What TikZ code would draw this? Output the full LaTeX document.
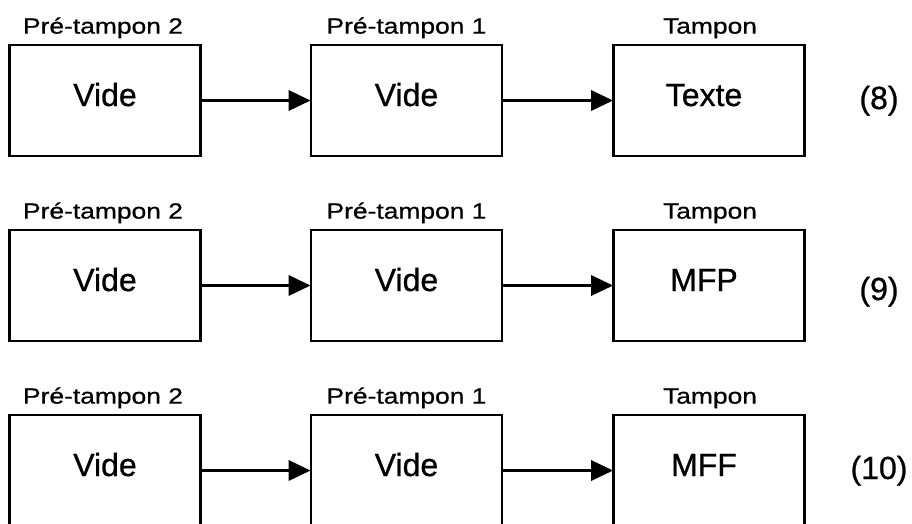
\documentclass[tikz,border=0pt]{standalone}
\usepackage{fontspec}
\setmainfont[FakeBold=0.6,AutoFakeBold=0.6]{Liberation Sans}
\newfontfamily\widefont[FakeStretch=1.2,FakeBold=0.8]{Liberation Sans}
\newfontfamily\boxfont[FakeBold=0.8]{Liberation Sans}
\usetikzlibrary{arrows.meta,calc}

\tikzset{
  buffer/.style={draw, line width=2.8pt, rectangle, inner sep=0pt,
    minimum width=191pt, minimum height=111pt,
    text height=23pt, text depth=12pt,
    font=\boxfont\fontsize{32}{36}\selectfont},
  caption/.style={anchor=base, inner sep=0pt,
    font=\widefont\fontsize{22}{26}\selectfont},
  eqnum/.style={anchor=base, inner sep=0pt,
    font=\boxfont\fontsize{32}{36}\selectfont},
  flow/.style={line width=3.4pt, -{Triangle[length=22pt,width=20pt]}, shorten >=-1pt}
}

\begin{document}
\begin{tikzpicture}[x=1pt,y=-1pt]
  \useasboundingbox (0,0) rectangle (912,523);
  \clip (0,0) rectangle (912,523);

  % three buffer chains, one per row
  \foreach \r/\yc/\yb/\content/\num in {
      1/100.5/109/Texte/(8),
      2/285.5/300/MFP/(9),
      3/470.5/479/MFF/(10)} {
    \node[buffer] (p2-\r) at (105,\yc)   {Vide};
    \node[buffer] (p1-\r) at (406.5,\yc) {Vide};
    \node[buffer] (t-\r)  at (709,\yc)   {\content\kern10pt};

    \node[caption] (c2-\r) at ($(p2-\r.north)+(-2,-10)$) {Pré-tampon 2};
    \node[caption] (c1-\r) at ($(p1-\r.north)+(0,-10)$)  {Pré-tampon 1};
    \node[caption] (ct-\r) at ($(t-\r.north)+(1,-10)$)   {Tampon};

    \node[eqnum] (n-\r) at (879,\yb) {\num};

    \draw[flow] (p2-\r.east) -- (p1-\r.west);
    \draw[flow] (p1-\r.east) -- (t-\r.west);
  }
\end{tikzpicture}
\end{document}
